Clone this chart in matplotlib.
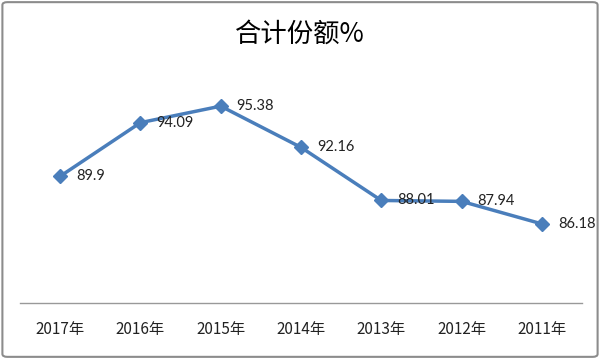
import matplotlib.pyplot as plt
from matplotlib.patches import FancyBboxPatch

plt.rcParams['font.family'] = ['Noto Sans CJK SC', 'DejaVu Sans']

years = ['2017年', '2016年', '2015年', '2014年', '2013年', '2012年', '2011年']
share = [89.9, 94.09, 95.38, 92.16, 88.01, 87.94, 86.18]
labels = ['89.9', '94.09', '95.38', '92.16', '88.01', '87.94', '86.18']

fig = plt.figure(figsize=(6, 3.59), dpi=100)
ax = fig.add_axes([20/600, 56/359, 562/600, 256/359])

x = range(len(years))
ax.plot(x, share, color='#4a7ebb', lw=2.5, marker='D', ms=7, zorder=3)
for xi, v, t in zip(x, share, labels):
    ax.annotate(t, (xi, v), xytext=(11.5, 0), textcoords='offset points',
                va='center', ha='left', fontsize=10.5, color='#222222',
                family=['Lato', 'DejaVu Sans'])

ax.set_xlim(-0.5, len(years) - 0.5)
ax.set_ylim(80, 100)
ax.set_xticks(list(x))
ax.set_xticklabels(years, fontsize=11, color='#222222')
ax.tick_params(axis='x', length=0, pad=13)
ax.set_yticks([])
for s in ['top', 'left', 'right']:
    ax.spines[s].set_visible(False)
ax.spines['bottom'].set_color('#999999')
ax.spines['bottom'].set_linewidth(1)

fig.text(0.5, 0.905, '合计份额%', ha='center', va='center', fontsize=19, color='black')

border = FancyBboxPatch((0.004, 0.006), 0.992, 0.988, boxstyle='round,pad=0,rounding_size=0.008',
                        transform=fig.transFigure, fill=False, ec='#8c8c8c', lw=1.5)
fig.patches.append(border)

fig.savefig('out.png', dpi=100)
